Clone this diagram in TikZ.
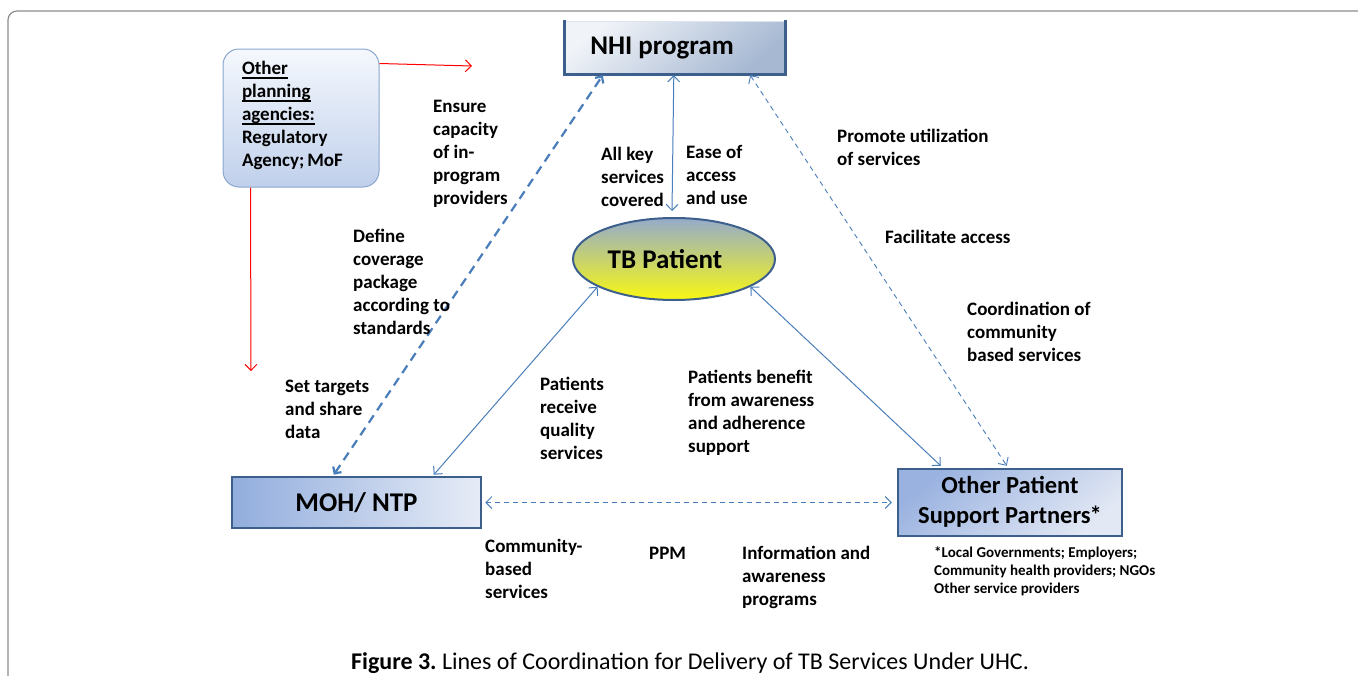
\documentclass[tikz,border=0pt]{standalone}
\usepackage{fontspec}
\setmainfont{Carlito}
\usetikzlibrary{arrows.meta,shapes.geometric,calc}
\definecolor{ablue}{HTML}{4A7EBB}
\definecolor{bdr}{HTML}{3C5F8C}
\definecolor{framec}{HTML}{8C8C8C}
\definecolor{nhiA}{HTML}{F0F3F8}
\definecolor{nhiB}{HTML}{A6B8D2}
\definecolor{nhiT}{HTML}{DDE3EC}
\definecolor{paA}{HTML}{F5F8FD}
\definecolor{paB}{HTML}{C0D0EB}
\definecolor{paD}{HTML}{8AA6CF}
\definecolor{tbA}{HTML}{95ABCB}
\definecolor{tbM}{HTML}{D0D76E}
\definecolor{tbB}{HTML}{F8F812}
\definecolor{mohA}{HTML}{92ADDD}
\definecolor{mohB}{HTML}{E6ECF6}
\definecolor{opA}{HTML}{9AB2E0}
\definecolor{opB}{HTML}{E2E8F4}
\newcommand\lblfont{\bfseries\fontsize{19}{23}\selectfont}
\newcommand\bigfont{\bfseries\fontsize{27}{32}\selectfont}
\newcommand\agul[1]{\leavevmode\setbox0\hbox{#1}\rlap{\vrule width\wd0 height -2.6pt depth 4pt}\box0}
\frenchspacing
\tikzset{
  lbl/.style={anchor=north west, inner sep=0pt, align=left, font=\lblfont},
  link/.style={ablue, line width=1pt, {Straight Barb[length=6pt,width=12pt]}-{Straight Barb[length=6pt,width=12pt]}},
  dlink/.style={ablue, line width=0.9pt, dash pattern=on 5pt off 4pt, {Straight Barb[length=6pt,width=12pt]}-{Straight Barb[length=6pt,width=12pt]}},
  dlinkthick/.style={ablue, line width=2.2pt, dash pattern=on 9pt off 6pt, {Straight Barb[length=5pt,width=10pt]}-{Straight Barb[length=5pt,width=10pt]}},
  redarr/.style={red, line width=1pt, -{Straight Barb[length=6pt,width=12pt]}},
  boxnode/.style={rectangle, inner sep=0pt, font=\bigfont},
}
\begin{document}
\begin{tikzpicture}[x=1pt,y=-1pt]
\useasboundingbox (0,0) rectangle (1358,675);
% outer frame
\draw[framec, line width=1.2pt, rounded corners=9pt] (8,677) -- (8,11) -- (1360,11);

% NHI program
\node[boxnode, minimum width=220pt, minimum height=52pt, top color=nhiA, bottom color=nhiB, shading angle=40] (nhi) at (675,48) {NHI program\hspace*{26pt}};
\draw[nhiT, line width=1pt] (nhi.north west) -- (nhi.north east);
\draw[bdr, line width=3pt, line cap=rect] (nhi.north west) -- (nhi.south west) -- (nhi.south east) -- (nhi.north east);

% Other planning agencies
\node[rectangle, rounded corners=16pt, draw=paD, line width=1pt, top color=paA, bottom color=paB, minimum width=156pt, minimum height=138pt, text width=118pt, align=left, inner xsep=19pt, font=\lblfont] (pa) at (301,118)
  {\agul{Other}\\\agul{planning}\\\agul{agencies:}\\Regulatory\\Agency;\kern3pt MoF\\[-15pt]\leavevmode};

% TB Patient
\node[ellipse, draw=bdr, line width=2pt, top color=tbA, middle color=tbM, bottom color=tbB, minimum width=202pt, minimum height=82pt, inner sep=0pt, font=\bigfont] (tb) at (674,259) {TB Patient\hspace*{18pt}};

% MOH/NTP
\node[boxnode, draw=bdr, line width=2.5pt, left color=mohA, right color=mohB, minimum width=249pt, minimum height=51pt] (moh) at (356.5,502.5) {MOH/ NTP};

% Other Patient Support Partners
\node[boxnode, draw=bdr, line width=2.5pt, top color=opA, bottom color=opB, shading angle=40, minimum width=224pt, minimum height=67pt, align=center, font=\bfseries\fontsize{24.5}{30}\selectfont] (ops) at (1010,502.5) {Other Patient\\Support Partners\kern-1pt*\hspace*{8pt}\\[-24pt]\mbox{}};

% red connectors
\coordinate (redE) at (472,66);
\coordinate (redS) at (251,371);
\draw[redarr] ($(pa.north east)+(0,15)$) -- (redE);
\draw[redarr] ($(pa.south west)+(28,0)$) -- (redS);

% blue connectors
\draw[dlinkthick] ($(moh.north west)+(103,-1)$) -- ($(nhi.south west)+(38,1)$);
\draw[link] ($(nhi.south west)+(109,1)$) -- ($(tb.north)+(-2,-6)$);
\draw[link] (tb.200) -- ($(moh.north west)+(203,-1)$);
\draw[link] (tb.340) -- ($(ops.north west)+(44,-2)$);
\draw[dlink] ($(nhi.south east)+(-35,1)$) -- ($(ops.north west)+(110,-2)$);
\draw[dlink] ($(moh.east)+(3,0)$) -- ($(ops.west)+(-5,0)$);

% labels
\node[lbl] (l1) at (433,100) {Ensure\\capacity\\of in-\\program\\providers};
\node[lbl] (l2) at (601,147) {All key\\services\\covered};
\node[lbl] (l3) at (686,145) {Ease of\\access\\and use};
\node[lbl] (l4) at (837,129) {Promote utilization\\of services};
\node[lbl] (l5) at (885,230) {Facilitate access};
\node[lbl] (l6) at (967,302) {Coordination of\\community\\based services};
\node[lbl] (l7) at (353,229) {Define\\coverage\\package\\according to\\standards};
\node[lbl] (l8) at (285,380) {Set targets\\and share\\data};
\node[lbl] (l9) at (540,377) {Patients\\receive\\quality\\services};
\node[lbl] (l10) at (688,370) {Patients benefit\\from awareness\\and adherence\\support};
\node[lbl] (l11) at (485,539) {Community-\\based\\services};
\node[lbl] (l12) at (649,547) {PPM};
\node[lbl] (l13) at (742,546) {Information and\\awareness\\programs};
\node[anchor=north west, inner sep=0pt, align=left, font=\bfseries\fontsize{15}{18}\selectfont] (fn) at (934,547)
  {*Local Governments; Employers;\\Community health providers; NGOs\\Other service providers};

% caption
\node[inner sep=0pt, font=\fontsize{24}{28}\selectfont] (cap) at (690,663) {\textbf{Figure 3.} Lines of Coordination for Delivery of TB Services Under UHC.};
\end{tikzpicture}
\end{document}
